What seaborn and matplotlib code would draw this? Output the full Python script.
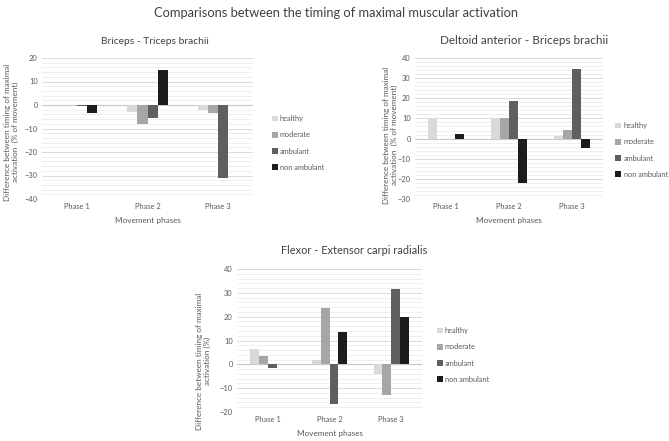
import pandas as pd
import numpy as np
import matplotlib
matplotlib.use("Agg")
import matplotlib.pyplot as plt
import seaborn as sns
from matplotlib.ticker import MultipleLocator

phases = ["Phase 1", "Phase 2", "Phase 3"]
groups = ["healthy", "moderate", "ambulant", "non ambulant"]
colors = ["#d9d9d9", "#a6a6a6", "#5f5f5f", "#1c1c1c"]

# Briceps - Triceps brachii
bt_healthy = [0, -3, -2]
bt_moderate = [0, -8, -3.5]
bt_ambulant = [-0.5, -5.5, -31]
bt_non_ambulant = [-3.5, 15, 0]

# Deltoid anterior - Briceps brachii
db_healthy = [9.5, 9.5, 1.5]
db_moderate = [0, 10, 4.5]
db_ambulant = [0, 18.5, 34.5]
db_non_ambulant = [2.5, -22, -4.5]

# Flexor - Extensor carpi radialis
fe_healthy = [6.5, 2, -4]
fe_moderate = [3.5, 23.5, -13]
fe_ambulant = [-1.5, -16.5, 31.5]
fe_non_ambulant = [0, 13.5, 20]

sns.set_style("white")
plt.rcParams['font.family'] = ['Lato', 'DejaVu Sans']
txt = "#595959"

W, H = 669, 441


def make_df(h, m, a, n):
    rows = []
    for vals, g in zip([h, m, a, n], groups):
        for p, v in zip(phases, vals):
            rows.append({"phase": p, "group": g, "value": v})
    return pd.DataFrame(rows)


def draw(fig, box, df, title, tsize, tpos, ylabel, ylab_pos, ylim, leg_anchor):
    # box in pixels: left, top, right, bottom
    l, t, r, b = box
    ax = fig.add_axes([l / W, 1 - b / H, (r - l) / W, (b - t) / H])
    sns.barplot(data=df, x="phase", y="value", hue="group", hue_order=groups,
                palette=colors, width=0.57, ax=ax, saturation=1, edgecolor="none",
                zorder=3)
    ax.set_ylim(*ylim)
    ax.yaxis.set_major_locator(MultipleLocator(10))
    ax.yaxis.set_minor_locator(MultipleLocator(2))
    ax.grid(axis="y", which="major", color="#d9d9d9", lw=0.7, zorder=0)
    ax.grid(axis="y", which="minor", color="#efefef", lw=0.7, zorder=0)
    ax.set_axisbelow(True)
    ax.axhline(0, color="#c8c8c8", lw=0.8, zorder=2)
    for s in ax.spines.values():
        s.set_visible(False)
    ax.tick_params(axis="both", which="both", length=0, labelsize=5.4, colors=txt, pad=3)
    fig.text(tpos[0] / W, 1 - tpos[1] / H, title, fontsize=tsize, color="#404040",
             ha="center", va="center")
    ax.set_xlabel("Movement phases", fontsize=5.9, color=txt, labelpad=5)
    ax.set_ylabel(ylabel, fontsize=5.9, color=txt)
    ax.yaxis.set_label_coords((ylab_pos[0] - l) / (r - l), (b - ylab_pos[1]) / (b - t))
    ax.legend(loc="center left", bbox_to_anchor=leg_anchor, bbox_transform=fig.transFigure,
              frameon=False, fontsize=5.3, handlelength=0.8, handleheight=0.8,
              handletextpad=0.3, labelspacing=1.25, labelcolor=txt)
    return ax


fig = plt.figure(figsize=(6.69, 4.41), dpi=100)
fig.text(336 / W, 1 - 13 / H, "Comparisons between the timing of maximal muscular activation",
         fontsize=9.3, color="#404040", ha="center", va="center")

draw(fig, (42, 58, 253, 199),
     make_df(bt_healthy, bt_moderate, bt_ambulant, bt_non_ambulant),
     "Briceps - Triceps brachii", 7.4, (155, 41),
     "Difference between timing of maximal\nactivation  (% of movement)", (19, 132),
     (-40, 20), (265 / W, 1 - 143 / H))

draw(fig, (415, 58, 603, 199),
     make_df(db_healthy, db_moderate, db_ambulant, db_non_ambulant),
     "Deltoid anterior - Briceps brachii", 8.4, (524, 41),
     "Difference between timing of maximal\nactivation  (% of movement)", (398, 135),
     (-30, 40), (0.91, 0.66))

draw(fig, (237, 269, 422, 412),
     make_df(fe_healthy, fe_moderate, fe_ambulant, fe_non_ambulant),
     "Flexor - Extensor carpi radialis", 7.9, (354, 250),
     "Difference between timing of maximal\nactivation (%)", (211, 361),
     (-20, 40), (0.643, 0.195))

fig.savefig("out.png", dpi=100)
